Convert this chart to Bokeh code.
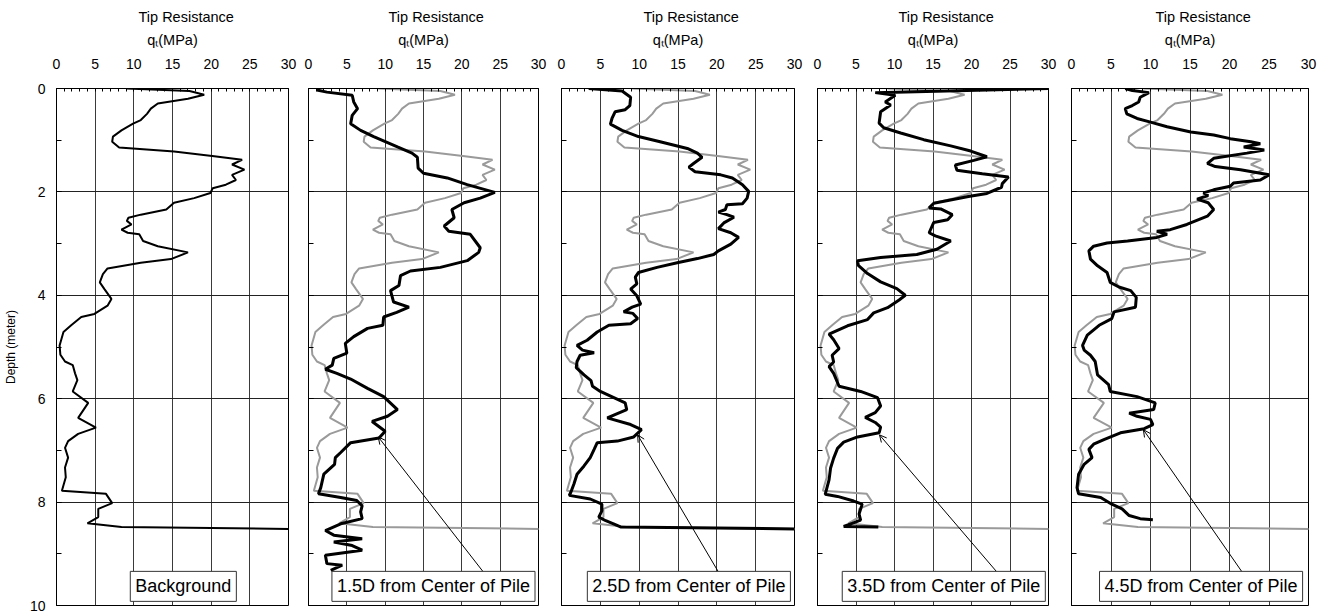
from bokeh.plotting import figure
from bokeh.layouts import row
from bokeh.models import Range1d, FixedTicker, Label, Arrow, OpenHead
from bokeh.embed import file_html
from bokeh.resources import INLINE

FONT = "Liberation Sans"

# ---------------- data ----------------
x_ticks = [0, 5, 10, 15, 20, 25, 30]
y_ticks = [0, 2, 4, 6, 8, 10]
panel_labels = ["Background", "1.5D from Center of Pile", "2.5D from Center of Pile",
                "3.5D from Center of Pile", "4.5D from Center of Pile"]

# background CPT (depth m, tip resistance MPa)
bg_d = [0.00, 0.05, 0.12, 0.20, 0.29, 0.39, 0.49, 0.61, 0.68, 0.81, 0.93, 1.03, 1.14, 1.22, 1.31,
        1.38, 1.47, 1.57, 1.67, 1.77, 1.86, 1.93, 2.02, 2.12, 2.21, 2.34, 2.44, 2.50, 2.56, 2.63,
        2.73, 2.79, 2.82, 2.95, 3.05, 3.17, 3.30, 3.37, 3.48, 3.59, 3.75, 3.88, 4.07, 4.20, 4.36,
        4.42, 4.58, 4.71, 4.97, 5.15, 5.28, 5.35, 5.51, 5.64, 5.86, 6.08, 6.37, 6.56, 6.68, 6.82,
        6.95, 7.14, 7.33, 7.52, 7.78, 7.84, 8.02, 8.13, 8.29, 8.41, 8.48, 8.52]
bg_q = [9.1, 17.2, 19.1, 17.0, 13.1, 12.2, 11.7, 10.9, 9.9, 8.4, 7.3, 7.2, 8.1, 15.2, 20.4,
        24.0, 22.7, 24.3, 22.7, 23.2, 21.9, 20.2, 19.9, 17.8, 15.2, 14.2, 10.9, 9.3, 9.1, 9.7,
        8.4, 9.2, 10.7, 11.2, 13.1, 17.0, 14.8, 10.9, 6.6, 6.0, 5.6, 6.2, 7.1, 6.6, 4.9,
        3.2, 1.9, 0.9, 0.4, 0.5, 1.1, 2.1, 2.4, 2.7, 2.1, 4.1, 2.8, 5.1, 2.8, 1.5,
        1.1, 1.5, 1.1, 1.2, 0.7, 6.4, 7.2, 5.4, 5.4, 4.0, 8.4, 30.5]

# 1.5D
d15_d = [0.03, 0.07, 0.13, 0.26, 0.39, 0.52, 0.68, 0.81, 0.93, 1.13, 1.25, 1.33, 1.54, 1.64, 1.73,
         1.86, 2.01, 2.12, 2.21, 2.34, 2.50, 2.66, 2.76, 2.82, 3.08, 3.17, 3.33, 3.46, 3.53, 3.62,
         3.81, 3.91, 4.13, 4.23, 4.33, 4.42, 4.58, 4.64, 4.80, 4.93, 5.12, 5.22, 5.35, 5.43, 5.51,
         5.62, 5.80, 5.96, 6.21, 6.34, 6.44, 6.63, 6.76, 6.85, 7.04, 7.14, 7.27, 7.46, 7.72, 7.84,
         7.91, 7.97, 8.07, 8.19, 8.32, 8.42, 8.55, 8.64, 8.71, 8.77, 8.84, 8.93, 9.03, 9.19, 9.22,
         9.32]
d15_q = [1.1, 2.4, 5.7, 5.9, 6.4, 5.7, 5.5, 6.8, 8.5, 11.6, 13.5, 14.2, 14.3, 15.0, 18.1,
         20.7, 24.3, 22.4, 20.3, 18.7, 19.0, 17.7, 18.3, 21.1, 22.4, 22.2, 20.7, 17.2, 13.3, 12.0,
         11.8, 10.7, 11.1, 13.1, 11.5, 9.8, 9.7, 7.7, 5.9, 4.8, 5.0, 3.3, 3.1, 2.2, 3.7,
         5.5, 7.7, 9.8, 11.6, 10.3, 8.3, 10.0, 9.2, 5.5, 4.2, 3.5, 3.4, 2.0, 1.6, 1.3,
         4.2, 6.3, 7.0, 6.8, 7.0, 4.2, 2.2, 3.3, 7.0, 3.3, 5.7, 7.0, 2.2, 2.4, 4.4,
         2.9]

# 2.5D
d25_d = [0.00, 0.05, 0.17, 0.33, 0.41, 0.45, 0.58, 0.69, 0.81, 0.93, 1.03, 1.16, 1.25, 1.33, 1.45,
         1.52, 1.61, 1.67, 1.73, 1.86, 1.99, 2.12, 2.23, 2.25, 2.34, 2.39, 2.44, 2.49, 2.60, 2.71,
         2.79, 2.88, 3.01, 3.14, 3.21, 3.29, 3.37, 3.46, 3.56, 3.65, 3.78, 3.88, 4.01, 4.17, 4.23,
         4.32, 4.35, 4.45, 4.55, 4.58, 4.71, 4.87, 4.97, 5.06, 5.11, 5.16, 5.28, 5.40, 5.54, 5.65,
         5.76, 5.86, 6.08, 6.21, 6.37, 6.50, 6.60, 6.74, 6.82, 6.85, 6.98, 7.14, 7.30, 7.46, 7.65,
         7.81, 7.87, 7.94, 8.04, 8.17, 8.29, 8.36, 8.42, 8.48, 8.52]
d25_q = [3.5, 7.8, 8.9, 8.8, 8.2, 6.9, 6.5, 6.3, 7.8, 9.9, 12.7, 16.2, 17.5, 18.1, 17.0,
         16.4, 17.2, 20.5, 22.0, 23.3, 24.1, 23.9, 23.3, 21.3, 21.1, 20.2, 21.3, 22.2, 20.9, 20.2,
         21.8, 22.8, 21.8, 20.2, 19.6, 17.5, 14.9, 12.3, 9.9, 9.5, 9.7, 8.9, 9.7, 10.2, 9.1,
         8.0, 9.2, 9.8, 8.9, 6.1, 4.6, 3.3, 2.0, 2.7, 4.2, 2.4, 2.0, 1.9, 2.9, 3.8,
         4.0, 5.0, 8.2, 8.4, 5.9, 8.9, 10.3, 9.3, 7.2, 4.6, 4.2, 3.7, 2.9, 2.0, 1.6,
         1.2, 1.0, 3.7, 5.2, 5.2, 4.8, 5.7, 6.7, 7.6, 31.0]

# 3.5D
d35_d = [0.00, 0.08, 0.13, 0.26, 0.32, 0.45, 0.67, 0.76, 0.86, 0.99, 1.11, 1.21, 1.32, 1.39, 1.48,
         1.58, 1.65, 1.71, 1.84, 1.91, 2.03, 2.09, 2.22, 2.31, 2.33, 2.44, 2.54, 2.59, 2.79, 2.85,
         2.95, 3.11, 3.21, 3.27, 3.33, 3.42, 3.58, 3.74, 3.87, 4.00, 4.09, 4.24, 4.34, 4.47, 4.59,
         4.75, 4.86, 5.03, 5.16, 5.29, 5.38, 5.51, 5.76, 5.86, 5.98, 6.14, 6.27, 6.36, 6.46, 6.55,
         6.66, 6.74, 6.84, 6.96, 7.15, 7.34, 7.57, 7.85, 7.89, 7.98, 8.04, 8.23, 8.35, 8.41, 8.47,
         8.48]
d35_q = [30.0, 7.5, 10.1, 8.8, 9.5, 8.2, 8.0, 8.6, 10.8, 13.8, 17.3, 19.9, 22.0, 20.3, 17.9,
         18.1, 21.4, 24.8, 24.0, 23.9, 22.0, 19.6, 15.1, 14.5, 16.0, 17.5, 16.9, 15.1, 14.5, 15.3,
         17.3, 15.5, 12.9, 8.2, 5.2, 5.3, 6.5, 8.2, 10.3, 11.4, 10.6, 9.1, 7.3, 6.5, 3.9,
         1.5, 2.1, 2.8, 1.9, 2.1, 1.5, 2.1, 2.8, 5.6, 7.8, 8.2, 7.5, 6.2, 7.5, 8.2,
         8.0, 5.2, 3.4, 2.6, 2.1, 1.7, 1.5, 1.0, 2.6, 4.7, 5.8, 5.4, 5.6, 4.5, 3.4,
         7.9]

# 4.5D
d45_d = [0.00, 0.04, 0.08, 0.17, 0.26, 0.33, 0.39, 0.49, 0.58, 0.65, 0.74, 0.84, 0.90, 0.97, 1.03,
         1.07, 1.13, 1.19, 1.25, 1.35, 1.45, 1.51, 1.57, 1.67, 1.77, 1.83, 1.89, 1.96, 2.02, 2.07,
         2.14, 2.21, 2.34, 2.47, 2.63, 2.73, 2.76, 2.82, 2.88, 2.95, 2.99, 3.05, 3.14, 3.30, 3.43,
         3.56, 3.75, 3.84, 3.91, 4.04, 4.23, 4.32, 4.45, 4.58, 4.77, 4.97, 5.06, 5.16, 5.28, 5.54,
         5.73, 5.86, 5.96, 6.08, 6.21, 6.28, 6.34, 6.40, 6.50, 6.58, 6.66, 6.79, 6.88, 6.98, 7.14,
         7.27, 7.46, 7.72, 7.84, 7.91, 8.04, 8.13, 8.26, 8.32, 8.34]
d45_q = [6.8, 7.7, 9.8, 8.7, 8.5, 7.7, 6.8, 7.0, 8.3, 10.0, 12.1, 15.1, 18.0, 20.1, 22.7,
         23.9, 21.8, 24.4, 22.2, 18.0, 17.2, 18.2, 21.4, 25.0, 23.9, 20.5, 20.1, 18.0, 16.7, 17.3,
         15.9, 17.3, 18.0, 17.2, 14.6, 12.5, 10.8, 12.1, 10.8, 7.1, 4.5, 2.8, 2.2, 2.4, 3.3,
         4.5, 4.9, 6.0, 7.5, 8.2, 8.1, 5.4, 5.1, 3.5, 2.0, 1.4, 1.6, 2.4, 3.0, 3.3,
         4.7, 4.9, 8.3, 10.6, 10.4, 7.3, 8.3, 10.0, 10.3, 9.2, 6.2, 4.1, 2.8, 2.2, 2.6,
         1.6, 0.9, 0.7, 0.9, 3.7, 5.1, 6.4, 7.3, 8.7, 10.3]

series = [(bg_q, bg_d), (d15_q, d15_d), (d25_q, d25_d), (d35_q, d35_d), (d45_q, d45_d)]
for q, d in series:
    assert len(q) == len(d), (len(q), len(d))

# annotation arrows: tail (box top) -> head (on curve), in data units
arrow_tail_q = [None, 22.9, 20.2, 23.4, 21.9]
arrow_tail_d = [None, 9.37, 9.35, 9.37, 9.42]
arrow_head_q = [None, 9.1, 9.8, 8.05, 9.1]
arrow_head_d = [None, 6.74, 6.70, 6.70, 6.60]

# ---------------- layout ----------------
label_q = [16.4, 16.3, 16.4, 16.4, 16.4]
label_d = [9.63, 9.63, 9.63, 9.63, 9.63]
# (left, frame width, right)
geom = [
    (55, 233, 10),
    (10, 230, 10),
    (13, 233, 10),
    (13, 231, 10),
    (13, 237, 15),
]
TOP, FRAME_H, BOTTOM = 88, 517, 9
TITLE_PX = 14.5
TITLE_W = 6.613 * TITLE_PX  # approx. rendered width of "Tip Resistance"

figs = []
for i in range(5):
    L, W, R = geom[i]
    p = figure(width=L + W + R, height=TOP + FRAME_H + BOTTOM,
               x_range=Range1d(0, 30), y_range=Range1d(10, 0),
               x_axis_location="above", toolbar_location=None, output_backend="svg",
               min_border_left=L, min_border_right=R, min_border_top=TOP, min_border_bottom=BOTTOM,
               title="Tip Resistance")
    p.title.text_font = FONT
    p.title.text_font_size = f"{TITLE_PX}px"
    p.title.text_font_style = "normal"
    p.title.text_color = "black"
    p.title.align = "left"
    p.title.offset = round(W / 2 + 13 - TITLE_W / 2)
    p.title.standoff = 8

    p.outline_line_color = "black"
    p.outline_line_width = 1
    p.background_fill_color = "white"
    p.border_fill_color = "white"

    xa = p.xaxis[0]
    xa.ticker = FixedTicker(ticks=x_ticks, minor_ticks=list(range(31)))
    xa.major_tick_in = 0
    xa.major_tick_out = 0
    xa.minor_tick_in = 3
    xa.minor_tick_out = 0
    xa.axis_line_color = "black"
    xa.major_tick_line_color = "black"
    xa.minor_tick_line_color = "black"
    xa.major_label_text_font = FONT
    xa.major_label_text_font_size = "14px"
    xa.major_label_text_color = "black"
    xa.major_label_standoff = 20
    xa.axis_label = "q\u209c(MPa)"
    xa.axis_label_text_font = FONT
    xa.axis_label_text_font_size = "14.5px"
    xa.axis_label_text_font_style = "normal"
    xa.axis_label_text_color = "black"
    xa.axis_label_standoff = 8

    ya = p.yaxis[0]
    ya.ticker = FixedTicker(ticks=y_ticks, minor_ticks=list(range(11)))
    ya.major_tick_in = 5
    ya.major_tick_out = 0
    ya.minor_tick_in = 5
    ya.minor_tick_out = 0
    ya.axis_line_color = "black"
    ya.major_tick_line_color = "black"
    ya.minor_tick_line_color = "black"
    if i == 0:
        ya.major_label_text_font = FONT
        ya.major_label_text_font_size = "14px"
        ya.major_label_text_color = "black"
        ya.major_label_standoff = 11
        ya.axis_label = "Depth (meter)"
        ya.axis_label_text_font = FONT
        ya.axis_label_text_font_size = "12px"
        ya.axis_label_text_font_style = "normal"
        ya.axis_label_text_color = "black"
        ya.axis_label_standoff = 9
    else:
        ya.major_label_overrides = {t: "" for t in y_ticks}
        ya.major_label_standoff = 0

    p.xgrid.ticker = FixedTicker(ticks=[5, 10, 15, 20, 25])
    p.xgrid.grid_line_color = "#3a3a3a"
    p.xgrid.grid_line_width = 1
    p.ygrid.ticker = FixedTicker(ticks=[2, 4, 6, 8])
    p.ygrid.grid_line_color = "#222222"
    p.ygrid.grid_line_width = 1

    if i == 0:
        p.line(bg_q, bg_d, line_color="black", line_width=2)
    else:
        p.line(bg_q, bg_d, line_color="#9a9a9a", line_width=2)
        q, d = series[i]
        p.line(q, d, line_color="black", line_width=3)
        p.add_layout(Arrow(end=OpenHead(size=7, line_width=1, line_color="black"),
                           x_start=arrow_tail_q[i], y_start=arrow_tail_d[i],
                           x_end=arrow_head_q[i], y_end=arrow_head_d[i],
                           line_width=1, line_color="black"))

    p.add_layout(Label(x=label_q[i], y=label_d[i], text=panel_labels[i],
                       text_align="center", text_baseline="middle",
                       text_font=FONT, text_font_size="18px", text_color="black",
                       border_line_color="#333333", border_line_width=1,
                       background_fill_color="white", padding=5))
    figs.append(p)

layout = row(*figs)
open("out.html", "w").write(file_html(layout, INLINE))
